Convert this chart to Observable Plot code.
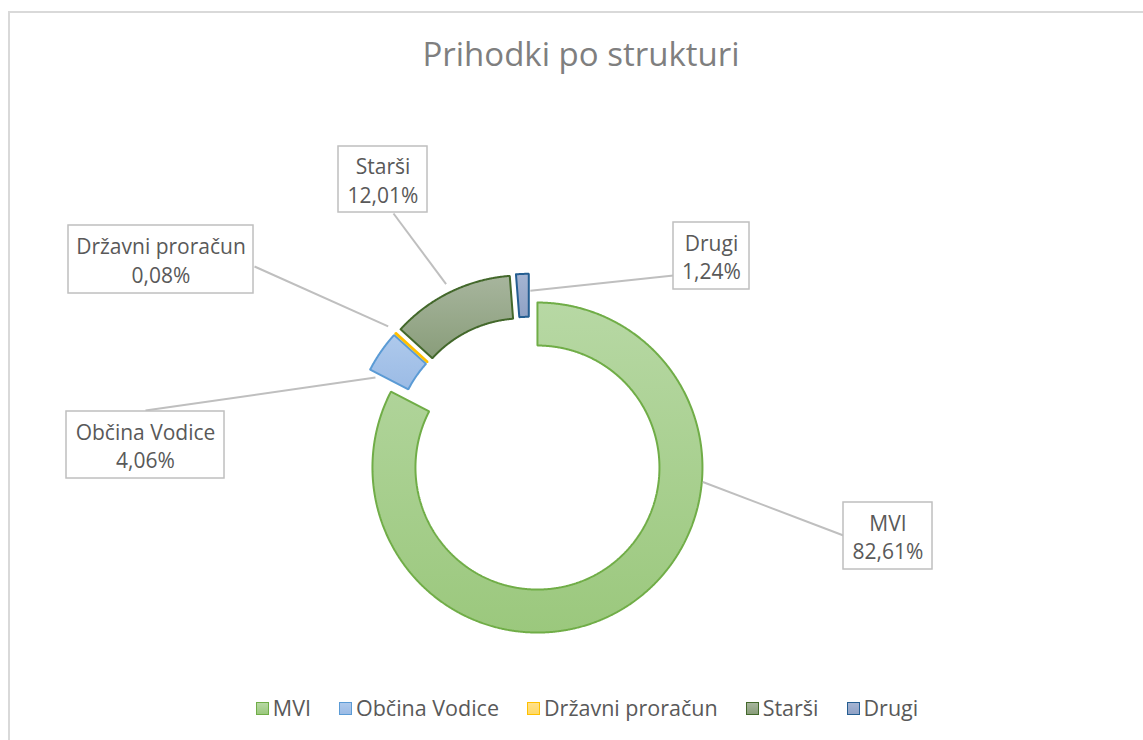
<!DOCTYPE html>
<html><head><meta charset="utf-8">
<script src="https://cdn.jsdelivr.net/npm/d3@7"></script>
<script src="https://cdn.jsdelivr.net/npm/@observablehq/plot@0.6"></script>
<style>
body{margin:0;background:#fff;font-family:"Open Sans",sans-serif;}
#page{position:relative;width:1143px;height:740px;overflow:hidden;background:#fff;}
#frame{position:absolute;left:8px;top:11px;width:1200px;height:800px;border:2px solid #d9d9d9;box-sizing:border-box;}
#title{position:absolute;top:31px;left:0;width:1162px;text-align:center;font-size:33px;line-height:46px;color:#7f7f7f;font-weight:400;}
#chart{position:absolute;left:0;top:100px;}
#legend{position:absolute;top:693px;left:0;width:1174px;display:flex;justify-content:center;gap:28px;font-size:21.5px;color:#595959;line-height:30px;}
.item{display:flex;align-items:center;}
.sw{width:11px;height:11px;border:1.5px solid;margin-right:4px;}
</style></head>
<body>
<div id="page">
  <div id="frame"></div>
  <div id="title">Prihodki po strukturi</div>
  <div id="chart"></div>
  <div id="legend"></div>
</div>
<script>
// ---- data ----
const categories = ["MVI", "Občina Vodice", "Državni proračun", "Starši", "Drugi"];
const values = [82.61, 4.06, 0.08, 12.01, 1.24];

// ---- styles / layout ----
const strokeColors = ["#70ad47", "#5b9bd5", "#ffc000", "#43682b", "#255e91"];
const gradTop = ["#b7d8a4", "#aec9ec", "#ffe08c", "#a7b59d", "#a5b4d2"];
const gradBottom = ["#9bc87d", "#9bbbe5", "#ffd966", "#899d7a", "#8fa1c5"];
const W = 1143, top0 = 100, H = 580;
const center = [528.9, 453.8], rOuter = 165, rInner = 122, explode = 15.5;
// label boxes: center x, center y, width, height
const boxCx = [887.5, 145, 160.5, 382.5, 711];
const boxCy = [535.5, 444.5, 259, 179, 255.5];
const boxW = [89, 158, 185, 89, 76];
const boxH = [67, 67, 68, 66, 67];
// leader line: point on the box, and anchor angle (deg) / radius from the slice centre
const leadBoxX = [843, 145, 254, 393, 673];
const leadBoxY = [535, 410, 266, 213, 275];
const leadAng = [95, 295.7, null, null, 360.6];
const leadRad = [166, 156.7, 175, 174, 148];

const pie = d3.pie().sort(null).value(d => d)(values);
const rad = Math.PI / 180;
const slices = [];
const sliceCenters = [];
pie.forEach((p, i) => {
  const mid = (p.startAngle + p.endAngle) / 2;
  const cx = center[0] + explode * Math.sin(mid);
  const cy = center[1] - explode * Math.cos(mid);
  sliceCenters.push([cx, cy, mid]);
  const n = Math.max(2, Math.ceil((p.endAngle - p.startAngle) / 0.005));
  const pts = [];
  for (let k = 0; k <= n; k++) {
    const a = p.startAngle + (p.endAngle - p.startAngle) * k / n;
    pts.push([cx + rOuter * Math.sin(a), cy - rOuter * Math.cos(a)]);
  }
  for (let k = n; k >= 0; k--) {
    const a = p.startAngle + (p.endAngle - p.startAngle) * k / n;
    pts.push([cx + rInner * Math.sin(a), cy - rInner * Math.cos(a)]);
  }
  pts.push(pts[0]);
  pts.forEach(([x, y]) => slices.push({name: categories[i], x, y, fill: `url(#g${i})`, stroke: strokeColors[i]}));
});

const labels = categories.map((c, i) => {
  const [cx, cy, mid] = sliceCenters[i];
  const a = leadAng[i] == null ? mid : leadAng[i] * rad;
  return {
    text: `${c}\n${values[i].toFixed(2).replace(".", ",")}%`,
    x: boxCx[i], y: boxCy[i],
    x1: boxCx[i] - boxW[i] / 2, x2: boxCx[i] + boxW[i] / 2,
    y1: boxCy[i] - boxH[i] / 2, y2: boxCy[i] + boxH[i] / 2,
    lx1: leadBoxX[i], ly1: leadBoxY[i],
    lx2: cx + leadRad[i] * Math.sin(a), ly2: cy - leadRad[i] * Math.cos(a)
  };
});

// draw Državni proračun last so its thin slice stays visible
const order = [0, 1, 3, 4, 2];
const sliceMarks = order.map(i => Plot.line(slices.filter(d => d.name === categories[i]), {
  x: "x", y: "y", fill: "fill", stroke: "stroke", strokeWidth: 2, strokeLinejoin: "miter", curve: "linear"
}));

const chart = Plot.plot({
  width: W, height: H,
  margin: 0,
  x: {domain: [0, W], range: [0, W], axis: null},
  y: {domain: [top0, top0 + H], range: [0, H], axis: null},
  color: {type: "identity"},
  style: {background: "transparent", fontFamily: "Open Sans, sans-serif", overflow: "visible"},
  marks: [
    ...sliceMarks,
    Plot.link(labels, {x1: "lx1", y1: "ly1", x2: "lx2", y2: "ly2", stroke: "#bfbfbf", strokeWidth: 2}),
    Plot.rect(labels, {x1: "x1", x2: "x2", y1: "y1", y2: "y2", fill: "white", stroke: "#bfbfbf", strokeWidth: 1.5}),
    Plot.text(labels, {x: "x", y: "y", text: "text", fontSize: 21, lineHeight: 1.36, fill: "#595959"})
  ]
});

const defs = d3.select(chart).insert("defs", ":first-child");
categories.forEach((c, i) => {
  const g = defs.append("linearGradient").attr("id", `g${i}`).attr("x1", 0).attr("y1", 0).attr("x2", 0).attr("y2", 1);
  g.append("stop").attr("offset", "0%").attr("stop-color", gradTop[i]);
  g.append("stop").attr("offset", "100%").attr("stop-color", gradBottom[i]);
});
document.getElementById("chart").appendChild(chart);

const legend = document.getElementById("legend");
categories.forEach((c, i) => {
  const it = document.createElement("div");
  it.className = "item";
  it.innerHTML = `<span class="sw" style="background:linear-gradient(${gradTop[i]},${gradBottom[i]});border-color:${strokeColors[i]}"></span><span>${c}</span>`;
  legend.appendChild(it);
});
</script>
</body></html>
